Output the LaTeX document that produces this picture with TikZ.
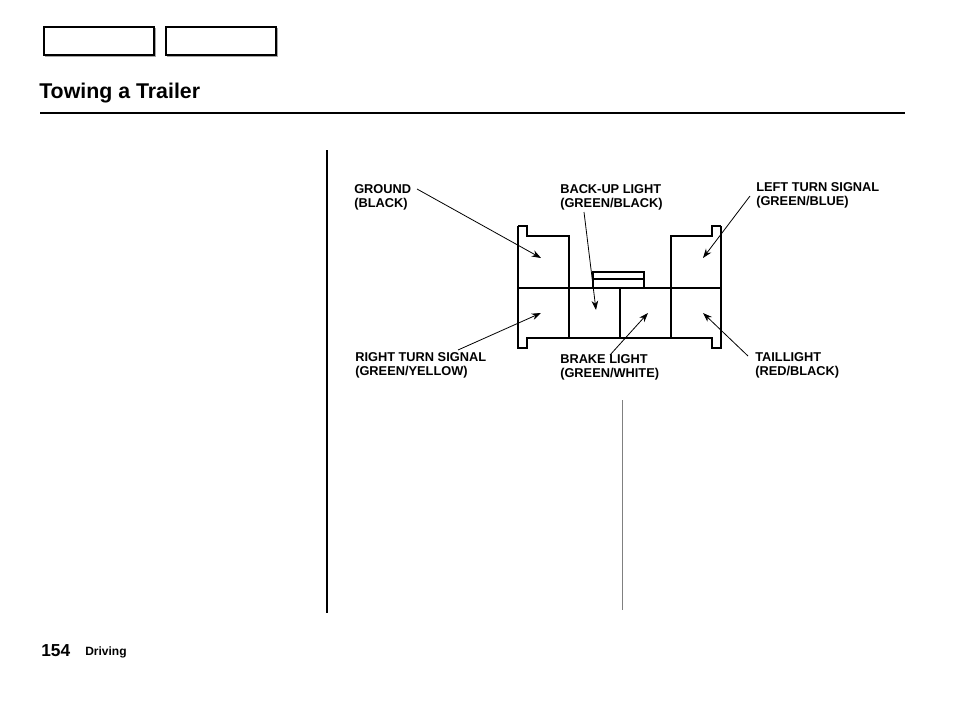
\documentclass[tikz,border=0pt]{standalone}
\usepackage{fontspec}
\setmainfont{Liberation Sans}
\usetikzlibrary{arrows.meta}
\begin{document}
\begin{tikzpicture}[x=0.75pt,y=-0.75pt,
  lbl/.style={font=\bfseries\fontsize{9.6}{10.5}\selectfont,align=left,inner sep=0pt,anchor=north west},
  arr/.style={-{Stealth[length=7pt,width=5pt]},line width=0.6pt},
  part/.style={line width=1pt}]
\useasboundingbox (0,0) rectangle (954,714);
\fill[white] (0,0) rectangle (954,714);
% header tabs
\foreach \a/\b [count=\i] in {44/155,166/277}{
  \draw[gray!70,line width=1pt] (\a+1,56) -- (\b,56) -- (\b,28);
  \draw[line width=0.8pt] (\a,27) rectangle (\b-1,55);
}
\node[font=\bfseries\fontsize{16}{18}\selectfont,anchor=west,inner sep=0pt] (title) at (39,93) {Towing a Trailer};
\draw[line width=1.5pt] (40,113) -- (905,113);
\draw[line width=1.2pt] (327,150) -- (327,613);
\draw[gray,line width=0.5pt] (622,400) -- (622,610);
\node[font=\bfseries\fontsize{13}{14}\selectfont,anchor=west,inner sep=0pt] (pg) at (41,651) {154};
\node[font=\bfseries\fontsize{9}{10}\selectfont,anchor=west,inner sep=0pt] (sec) at (85,652) {Driving};
% connector
\draw[part] (518,226) -- (527,226) -- (527,236) -- (569,236) -- (569,288);
\draw[part] (721,226) -- (712,226) -- (712,236) -- (671,236) -- (671,288);
\draw[part] (518,226) -- (518,348) -- (527,348) -- (527,338) -- (712,338) -- (712,348) -- (721,348) -- (721,226);
\draw[part] (518,288) -- (721,288);
\foreach \x in {569,620,671} \draw[part] (\x,288) -- (\x,338);
\draw[part] (593,288) -- (593,272) -- (644,272) -- (644,288);
\draw[part] (593,279) -- (644,279);
% targets
\coordinate (tG) at (541,258);
\coordinate (tB) at (596,310);
\coordinate (tL) at (703,258);
\coordinate (tR) at (541,313);
\coordinate (tK) at (648,313);
\coordinate (tT) at (703,313);
% labels
\node[lbl] (lg) at (354,184) {GROUND\\(BLACK)};
\node[lbl] (lb) at (560,184) {BACK-UP LIGHT\\(GREEN/BLACK)};
\node[lbl] (ll) at (756,182) {LEFT TURN SIGNAL\\(GREEN/BLUE)};
\node[lbl] (lr) at (355,352) {RIGHT TURN SIGNAL\\(GREEN/YELLOW)};
\node[lbl] (lk) at (560,354) {BRAKE LIGHT\\(GREEN/WHITE)};
\node[lbl] (lt) at (755,352) {TAILLIGHT\\(RED/BLACK)};
\draw[arr] (417,189) -- (tG);
\draw[arr] (584,212) -- (tB);
\draw[arr] (750,196) -- (tL);
\draw[arr] (458,350) -- (tR);
\draw[arr] (610,355) -- (tK);
\draw[arr] (748,356) -- (tT);
\end{tikzpicture}
\end{document}
